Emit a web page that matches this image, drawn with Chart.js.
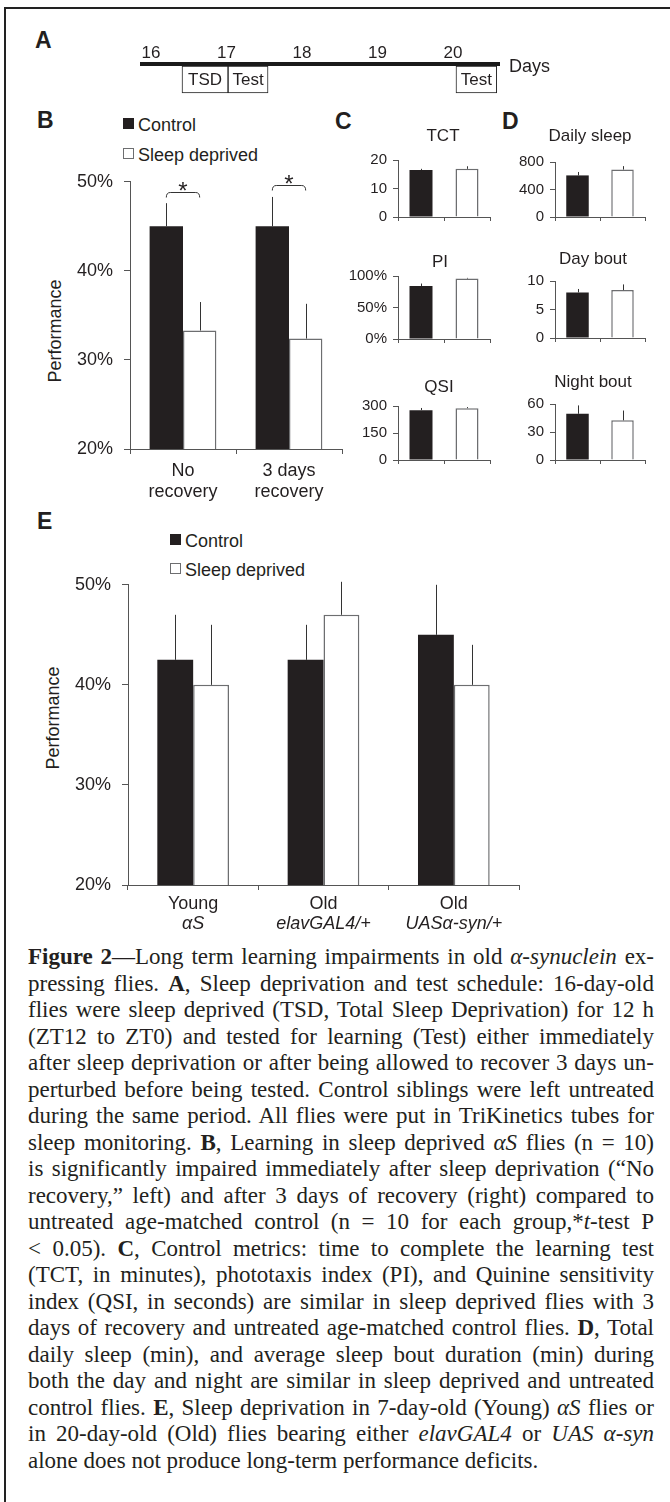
<!DOCTYPE html>
<html>
<head>
<meta charset="utf-8">
<script src="https://cdn.jsdelivr.net/npm/chart.js@4.4.1/dist/chart.umd.min.js"></script>
<style>
body { margin: 0; width: 670px; height: 1502px; position: relative; overflow: hidden; background: #fff;
       font-family: "Liberation Sans", Arial, sans-serif; color: #231f20; }
canvas { position: absolute; }
.frame { position: absolute; left: 4px; top: 7px; width: 720px; height: 1560px;
         border-left: 2px solid #222; border-top: 2px solid #222; }
.t { position: absolute; white-space: nowrap; }
.sq { position: absolute; width: 11px; height: 11px; box-sizing: border-box; }
.ylab { position: absolute; width: 200px; height: 20px; line-height: 20px; font-size: 18px;
        text-align: center; transform: rotate(-90deg); }
#caption { position: absolute; left: 28px; top: 944px; width: 626px; font-family: "Liberation Serif", "Times New Roman", serif;
           font-size: 23px; line-height: 26.5px; color: #231f20; }
#caption div { text-align: justify; text-align-last: justify; white-space: nowrap; }
#caption div.last { text-align-last: left; }
</style>
</head>
<body>
<div class="frame"></div>

<div id="caption">
<div><b>Figure 2</b>—Long term learning impairments in old <i>α-synuclein</i> ex-</div>
<div>pressing flies. <b>A</b>, Sleep deprivation and test schedule: 16-day-old</div>
<div>flies were sleep deprived (TSD, Total Sleep Deprivation) for 12 h</div>
<div>(ZT12 to ZT0) and tested for learning (Test) either immediately</div>
<div>after sleep deprivation or after being allowed to recover 3 days un-</div>
<div>perturbed before being tested. Control siblings were left untreated</div>
<div>during the same period. All flies were put in TriKinetics tubes for</div>
<div>sleep monitoring. <b>B</b>, Learning in sleep deprived <i>αS</i> flies (n = 10)</div>
<div>is significantly impaired immediately after sleep deprivation (“No</div>
<div>recovery,” left) and after 3 days of recovery (right) compared to</div>
<div>untreated age-matched control (n = 10 for each group,*<i>t</i>-test P</div>
<div>&lt; 0.05). <b>C</b>, Control metrics: time to complete the learning test</div>
<div>(TCT, in minutes), phototaxis index (PI), and Quinine sensitivity</div>
<div>index (QSI, in seconds) are similar in sleep deprived flies with 3</div>
<div>days of recovery and untreated age-matched control flies. <b>D</b>, Total</div>
<div>daily sleep (min), and average sleep bout duration (min) during</div>
<div>both the day and night are similar in sleep deprived and untreated</div>
<div>control flies. <b>E</b>, Sleep deprivation in 7-day-old (Young) <i>αS</i> flies or</div>
<div>in 20-day-old (Old) flies bearing either <i>elavGAL4</i> or <i>UAS α-syn</i></div>
<div class="last">alone does not produce long-term performance deficits.</div>
</div>

<script>
// A - schedule
var dayTicks = [16, 17, 18, 19, 20];
var schedBoxes = [[16.41, 17.02], [17.02, 17.55], [20.04, 20.58]];
var schedLabels = ["TSD", "Test", "Test"];

// B - learning, no recovery / 3 days recovery
var bLabels = [["No", "recovery"], ["3 days", "recovery"]];
var bControl = [45, 45];
var bControlErr = [2.6, 3.3];
var bDeprived = [33.3, 32.4];
var bDeprivedErr = [3.2, 3.9];
var bSigLevel = [48.9, 49.6];

// C / D - control metrics (control, sleep deprived)
var smallCats = ["Control", "Sleep deprived"];
var tctValues = [16.5, 16.9],   tctErr = [0.4, 0.9];
var piValues = [84, 96],        piErr = [4, 1];
var qsiValues = [277, 288],     qsiErr = [12, 6];
var sleepValues = [605, 690],   sleepErr = [50, 50];
var dayBoutValues = [8.0, 8.4], dayBoutErr = [0.6, 1.0];
var nightBoutValues = [49.5, 42.5], nightBoutErr = [9, 10.5];

// E - young / old genotypes
var eLabels = [["Young", "αS"], ["Old", "elavGAL4/+"], ["Old", "UASα-syn/+"]];
var eControl = [42.5, 42.5, 45];
var eControlErr = [4.5, 3.5, 5];
var eDeprived = [40, 47, 40];
var eDeprivedErr = [6, 3.3, 4];

var ink = "#231f20";
var axisColor = "#555";
var whiteEdge = "#6d6e70";
var FONT = '"Liberation Sans", Arial, sans-serif';

Chart.defaults.font.family = FONT;
Chart.defaults.color = ink;
Chart.defaults.animation = false;
Chart.defaults.responsive = false;
Chart.defaults.plugins.legend.display = false;
Chart.defaults.plugins.tooltip.enabled = false;

// error bars (upper only), drawn from the data through the y scale
Chart.register({
    id: "errbars",
    afterDatasetsDraw: function (chart, args, opts) {
        if (!opts.errors) return;
        var ctx = chart.ctx, y = chart.scales.y;
        ctx.save();
        ctx.strokeStyle = "#333";
        ctx.lineWidth = 1;
        opts.errors.forEach(function (errs, di) {
            var vals = chart.data.datasets[di].data;
            chart.getDatasetMeta(di).data.forEach(function (bar, i) {
                var px = Math.round(bar.x) + 0.5;
                ctx.beginPath();
                ctx.moveTo(px, bar.y);
                ctx.lineTo(px, y.getPixelForValue(vals[i] + errs[i]));
                ctx.stroke();
            });
        });
        ctx.restore();
    }
});

// significance brackets with a star
Chart.register({
    id: "sig",
    afterDatasetsDraw: function (chart, args, opts) {
        if (!opts.levels) return;
        var ctx = chart.ctx, y = chart.scales.y;
        ctx.save();
        ctx.strokeStyle = "#333";
        ctx.lineWidth = 1;
        ctx.fillStyle = ink;
        ctx.font = "24px " + FONT;
        ctx.textAlign = "center";
        opts.levels.forEach(function (lvl, i) {
            var x1 = chart.getDatasetMeta(0).data[i].x;
            var x2 = chart.getDatasetMeta(1).data[i].x;
            var py = Math.round(y.getPixelForValue(lvl)) + 0.5;
            ctx.beginPath();
            ctx.moveTo(x1, py + 5);
            ctx.quadraticCurveTo(x1, py, x1 + 4, py);
            ctx.lineTo(x2 - 4, py);
            ctx.quadraticCurveTo(x2, py, x2, py + 5);
            ctx.stroke();
            ctx.fillText("*", (x1 + x2) / 2, py + 6);
        });
        ctx.restore();
    }
});

// two line category labels, second line italic
Chart.register({
    id: "catlabels",
    afterDraw: function (chart, args, opts) {
        if (!opts.lines) return;
        var ctx = chart.ctx, x = chart.scales.x, base = chart.chartArea.bottom;
        ctx.save();
        ctx.fillStyle = ink;
        ctx.textAlign = "center";
        opts.lines.forEach(function (lines, i) {
            var px = x.getPixelForValue(i);
            lines.forEach(function (t, k) {
                ctx.font = (k === 1 ? "italic " : "") + "18px " + FONT;
                ctx.fillText(t, px, base + 24 + k * 20);
            });
        });
        ctx.restore();
    }
});

// text inside schedule boxes
Chart.register({
    id: "boxtext",
    afterDatasetsDraw: function (chart, args, opts) {
        if (!opts.labels) return;
        var ctx = chart.ctx;
        ctx.save();
        ctx.fillStyle = ink;
        ctx.font = "17px " + FONT;
        ctx.textAlign = "center";
        ctx.textBaseline = "middle";
        opts.labels.forEach(function (t, i) {
            var bar = chart.getDatasetMeta(i).data[0];
            ctx.fillText(t, (bar.x + bar.base) / 2, bar.y + 1);
        });
        ctx.restore();
    }
});

function makeCanvas(left, top, w, h) {
    var c = document.createElement("canvas");
    c.width = w; c.height = h;
    c.style.left = left + "px";
    c.style.top = top + "px";
    document.body.appendChild(c);
    return c;
}

function text(html, left, capTop, size, extra) {
    var d = document.createElement("div");
    d.className = "t";
    d.innerHTML = html;
    d.style.fontSize = size + "px";
    d.style.lineHeight = size + "px";
    d.style.left = left + "px";
    d.style.top = (capTop - 0.13 * size) + "px";
    if (extra) Object.assign(d.style, extra);
    document.body.appendChild(d);
    return d;
}

function centered(html, cx, capTop, size) {
    return text(html, cx - 80, capTop, size, { width: "160px", textAlign: "center" });
}

function legend(x, y1, y2) {
    var a = document.createElement("div");
    a.className = "sq"; a.style.left = x + "px"; a.style.top = y1 + "px"; a.style.background = ink;
    var b = document.createElement("div");
    b.className = "sq"; b.style.left = x + "px"; b.style.top = y2 + "px"; b.style.border = "1px solid " + whiteEdge;
    document.body.appendChild(a); document.body.appendChild(b);
    text("Control", x + 15, y1, 18);
    text("Sleep deprived", x + 15, y2, 18);
}

function yLabel(cx, cy) {
    var d = document.createElement("div");
    d.className = "ylab";
    d.textContent = "Performance";
    d.style.left = (cx - 100) + "px";
    d.style.top = (cy - 10) + "px";
    document.body.appendChild(d);
}

// panel letters
text("<b>A</b>", 35, 32, 23);
text("<b>B</b>", 37, 112, 23);
text("<b>C</b>", 335, 113, 23);
text("<b>D</b>", 502, 113, 23);
text("<b>E</b>", 37, 513, 23);

// ---------- A ----------
new Chart(makeCanvas(100, 40, 420, 58), {
    type: "bar",
    data: {
        labels: [""],
        datasets: schedBoxes.map(function (b) {
            return { data: [b], backgroundColor: "#fff", borderColor: "#222", borderWidth: 1,
                     borderSkipped: false, grouped: false, barThickness: 27 };
        })
    },
    options: {
        indexAxis: "y",
        layout: { padding: { left: 42, right: 21, top: 2, bottom: 3 } },
        plugins: { boxtext: { labels: schedLabels } },
        scales: {
            x: {
                type: "linear", position: "top", min: 15.88, max: 20.61,
                afterBuildTicks: function (s) { s.ticks = dayTicks.map(function (v) { return { value: v }; }); },
                grid: { display: false, drawTicks: false },
                border: { display: true, width: 4, color: "#1a1a1a" },
                ticks: { padding: 0, font: { size: 17 }, color: ink },
                afterFit: function (s) { s.height = 22; }
            },
            y: { display: false }
        }
    }
});
text("Days", 509, 59, 18);

// ---------- B ----------
legend(123, 118, 148);
yLabel(55, 331);
new Chart(makeCanvas(60, 160, 290, 352), {
    type: "bar",
    data: {
        labels: bLabels,
        datasets: [
            { label: "Control", data: bControl, backgroundColor: ink, borderWidth: 0 },
            { label: "Sleep deprived", data: bDeprived, backgroundColor: "#fff", borderColor: whiteEdge, borderWidth: 1.5 }
        ]
    },
    options: {
        layout: { padding: { left: 0, right: 8, top: 14, bottom: 0 } },
        datasets: { bar: { categoryPercentage: 0.63, barPercentage: 1 } },
        plugins: { errbars: { errors: [bControlErr, bDeprivedErr] }, sig: { levels: bSigLevel } },
        scales: {
            x: {
                grid: { drawOnChartArea: false, tickLength: 5, color: axisColor },
                border: { color: axisColor },
                ticks: { font: { size: 18, lineHeight: 1.15 }, color: ink, padding: 7, maxRotation: 0 },
                afterFit: function (s) { s.height = 63; }
            },
            y: {
                min: 20, max: 50,
                ticks: { stepSize: 10, callback: function (v) { return v + "%"; }, font: { size: 18 }, color: ink, padding: 11 },
                grid: { drawOnChartArea: false, tickLength: 6, color: axisColor },
                border: { color: axisColor },
                afterFit: function (s) { s.width = 70; }
            }
        }
    }
});

// ---------- C / D ----------
function smallChart(area, vals, errs, max, step, suffix, title, titleCx, titleTop) {
    var x0 = area[0], y0 = area[1], x1 = area[2], y1 = area[3];
    var yW = 58, padTop = 10, padR = 4, xH = 8;
    var left = x0 - yW;
    new Chart(makeCanvas(left, y0 - padTop, x1 - left + padR, y1 - y0 + padTop + xH), {
        type: "bar",
        data: {
            labels: smallCats,
            datasets: [{ data: vals, backgroundColor: [ink, "#fff"], borderColor: [ink, whiteEdge],
                         borderWidth: [0, 1.5], barPercentage: 0.5, categoryPercentage: 1 }]
        },
        options: {
            layout: { padding: { left: 0, right: padR, top: padTop, bottom: 0 } },
            plugins: { errbars: { errors: [errs] } },
            scales: {
                x: {
                    ticks: { display: false },
                    grid: { drawOnChartArea: false, tickLength: 4, color: axisColor },
                    border: { color: axisColor },
                    afterFit: function (s) { s.height = xH; }
                },
                y: {
                    min: 0, max: max,
                    ticks: { stepSize: step, callback: function (v) { return v + suffix; }, font: { size: 15 }, color: ink, padding: 6 },
                    grid: { drawOnChartArea: false, tickLength: 5, color: axisColor },
                    border: { color: axisColor },
                    afterFit: function (s) { s.width = yW; }
                }
            }
        }
    });
    centered(title, titleCx, titleTop, 17);
}

smallChart([398, 155, 490, 224], tctValues, tctErr, 20, 10, "", "TCT", 443, 129);
smallChart([398, 271, 490, 346], piValues, piErr, 100, 50, "%", "PI", 440, 255);
smallChart([398, 401, 490, 467], qsiValues, qsiErr, 300, 150, "", "QSI", 439, 380);
smallChart([555, 157, 645, 224], sleepValues, sleepErr, 800, 400, "", "Daily sleep", 590, 129);
smallChart([555, 276, 645, 345], dayBoutValues, dayBoutErr, 10, 5, "", "Day bout", 593, 252);
smallChart([555, 399, 645, 467], nightBoutValues, nightBoutErr, 60, 30, "", "Night bout", 593, 375);

// ---------- E ----------
legend(170, 534, 563);
var eTop = 577, eBottom = 885;
yLabel(53, 718);
new Chart(makeCanvas(60, eTop - 14, 467, eBottom - eTop + 14 + 55), {
    type: "bar",
    data: {
        labels: eLabels.map(function (l) { return l.join(" "); }),
        datasets: [
            { label: "Control", data: eControl, backgroundColor: ink, borderWidth: 0 },
            { label: "Sleep deprived", data: eDeprived, backgroundColor: "#fff", borderColor: whiteEdge, borderWidth: 1.5 }
        ]
    },
    options: {
        layout: { padding: { left: 0, right: 8, top: 14, bottom: 0 } },
        datasets: { bar: { categoryPercentage: 0.55, barPercentage: 1 } },
        plugins: { errbars: { errors: [eControlErr, eDeprivedErr] }, catlabels: { lines: eLabels } },
        scales: {
            x: {
                ticks: { display: false },
                grid: { drawOnChartArea: false, tickLength: 5, color: axisColor },
                border: { color: axisColor },
                afterFit: function (s) { s.height = 55; }
            },
            y: {
                min: 20, max: 50,
                ticks: { stepSize: 10, callback: function (v) { return v + "%"; }, font: { size: 18 }, color: ink, padding: 11 },
                grid: { drawOnChartArea: false, tickLength: 6, color: axisColor },
                border: { color: axisColor },
                afterFit: function (s) { s.width = 68; }
            }
        }
    }
});
</script>
</body>
</html>
